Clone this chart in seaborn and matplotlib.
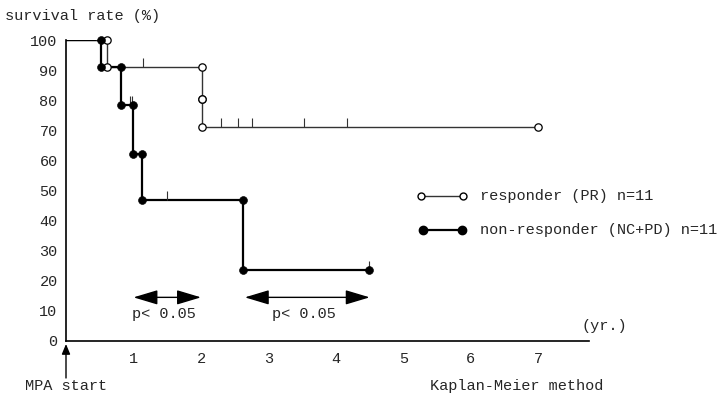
import matplotlib
matplotlib.use("Agg")
import matplotlib.pyplot as plt
from matplotlib.patches import FancyArrowPatch
import seaborn as sns
import pandas as pd
import numpy as np

# Kaplan-Meier curves (time in years, survival in %)
resp_times = [0, 0.61, 2.01, 2.02, 7.0]
resp_surv = [100, 91, 80.5, 71, 71]
resp_censor_t = [1.14, 2.30, 2.55, 2.75, 3.52, 4.17]
resp_censor_s = [91, 71, 71, 71, 71, 71]

nonr_times = [0, 0.52, 0.82, 1.00, 1.13, 2.62, 4.49]
nonr_surv = [100, 91, 78.5, 62, 47, 23.5, 23.5]
nonr_censor_t = [0.45, 0.48, 0.95, 0.98, 1.50, 4.49]
nonr_censor_s = [100, 100, 78.5, 78.5, 47, 23.5]

# significance intervals (years)
sig_start = [1.0, 2.65]
sig_end = [2.0, 4.5]
sig_label = ["p< 0.05", "p< 0.05"]

y_ticks = list(range(0, 101, 10))
x_ticks = [1, 2, 3, 4, 5, 6, 7]

sns.set_style("white")
plt.rcParams['font.family'] = ['Liberation Mono', 'DejaVu Sans Mono']

fig = plt.figure(figsize=(7.18, 4.0), dpi=100)
ax = fig.add_axes([66 / 718, 59 / 400, 523 / 718, 301 / 400])


def km_frame(times, surv):
    return pd.DataFrame({"t": times, "s": surv})


def event_points(times, surv):
    # dots at top and bottom of every drop, plus last follow-up
    xs, ys = [], []
    for i in range(1, len(times)):
        if surv[i] != surv[i - 1]:
            xs += [times[i], times[i]]
            ys += [surv[i - 1], surv[i]]
    xs.append(times[-1])
    ys.append(surv[-1])
    return pd.DataFrame({"t": xs, "s": ys})


sns.lineplot(data=km_frame(resp_times, resp_surv), x="t", y="s", ax=ax,
             drawstyle="steps-post", color="#333333", lw=1.0, estimator=None)
sns.lineplot(data=km_frame(nonr_times, nonr_surv), x="t", y="s", ax=ax,
             drawstyle="steps-post", color="black", lw=1.6, estimator=None)

ep = event_points(resp_times, resp_surv)
sns.scatterplot(data=ep, x="t", y="s", ax=ax, marker="o", s=28,
                facecolor="white", edgecolor="black", linewidth=0.9,
                zorder=5, clip_on=False)
ep = event_points(nonr_times, nonr_surv)
sns.scatterplot(data=ep, x="t", y="s", ax=ax, marker="o", s=32,
                color="black", edgecolor="black", zorder=5, clip_on=False)

# censor marks
ax.vlines(resp_censor_t, resp_censor_s, np.array(resp_censor_s) + 3,
          color="#333333", lw=0.8)
ax.vlines(nonr_censor_t, nonr_censor_s, np.array(nonr_censor_s) + 3,
          color="#333333", lw=0.8)

# significance arrows
for a, b, lab in zip(sig_start, sig_end, sig_label):
    ax.annotate("", xy=(a, 14.5), xytext=(b, 14.5),
                arrowprops=dict(arrowstyle="<|-|>,head_length=1.5,head_width=0.45",
                                color="black", lw=1.0, shrinkA=0, shrinkB=0))
    ax.text((a + b) / 2 - 0.05, 9, lab, ha="center", va="center", fontsize=11)

ax.set_xlim(0, 7.75)
ax.set_ylim(0, 100)
ax.set_xticks(x_ticks)
ax.set_yticks(y_ticks)
ax.set_xticklabels([str(v) for v in x_ticks], fontsize=11)
ax.set_yticklabels([str(v) for v in y_ticks], fontsize=11)
ax.tick_params(axis="y", direction="out", length=4, width=0.8, pad=2)
ax.tick_params(axis="x", direction="in", length=2, width=0.6, pad=8)
ax.set_xlabel("")
ax.set_ylabel("")
for side in ["top", "right"]:
    ax.spines[side].set_visible(False)
for side in ["left", "bottom"]:
    ax.spines[side].set_color("black")
    ax.spines[side].set_linewidth(1.2)

# legend drawn by hand
fig.lines.append(plt.Line2D([421 / 718, 463 / 718], [1 - 196 / 400] * 2,
                            color="#333333", lw=1.0, marker="o", ms=5,
                            mfc="white", mec="black", transform=fig.transFigure))
fig.lines.append(plt.Line2D([423 / 718, 462 / 718], [1 - 230 / 400] * 2,
                            color="black", lw=1.6, marker="o", ms=6,
                            mfc="black", mec="black", transform=fig.transFigure))
fig.text(480 / 718, 1 - 196 / 400, "responder (PR) n=11", va="center", fontsize=11)
fig.text(480 / 718, 1 - 230 / 400, "non-responder (NC+PD) n=11", va="center", fontsize=11)

fig.text(5 / 718, 1 - 16 / 400, "survival rate (%)", va="center", fontsize=11)
fig.text(582 / 718, 1 - 326 / 400, "(yr.)", va="center", fontsize=11)
fig.text(25 / 718, 1 - 386 / 400, "MPA start", va="center", fontsize=11)
fig.text(430 / 718, 1 - 386 / 400, "Kaplan-Meier method", va="center", fontsize=11)

# "MPA start" arrow below the origin
start_arrow = FancyArrowPatch((66 / 718, 1 - 378 / 400), (66 / 718, 1 - 344 / 400),
                              transform=fig.transFigure,
                              arrowstyle="-|>,head_length=6,head_width=2.5",
                              color="black", lw=1.0, shrinkA=0, shrinkB=0)
fig.add_artist(start_arrow)

fig.savefig("out.png", dpi=100)
